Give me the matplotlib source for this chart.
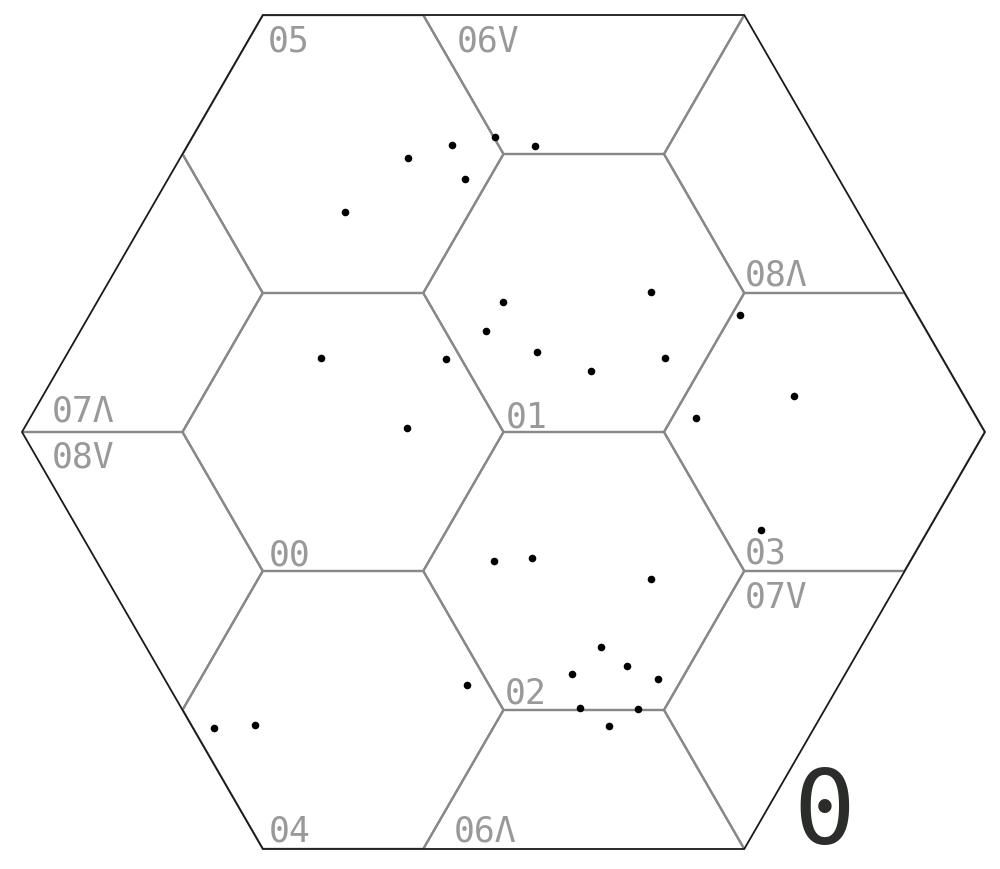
import numpy as np
import matplotlib
matplotlib.use("Agg")
import matplotlib.pyplot as plt
from matplotlib.patches import Polygon
from matplotlib.collections import PolyCollection

# ---- data (in picture coordinates) ----
dots_x = [495, 452, 535, 408, 465, 345,
          503, 651, 486, 446, 537, 591, 665, 740, 794, 696, 321, 407,
          494, 532, 651, 761, 601, 627, 572, 658, 467, 580, 638, 609,
          214, 255]
dots_y = [137, 145, 146, 158, 179, 212,
          302, 292, 331, 359, 352, 371, 358, 315, 396, 418, 358, 428,
          561, 558, 579, 530, 647, 666, 674, 679, 685, 708, 709, 726,
          728, 725]

cell_labels = ["05", "06V", "07Λ", "08V", "08Λ", "01", "00", "03", "07V",
               "02", "04", "06Λ"]
big_label = "0"

# ---- layout ----
label_pos = [(268, 51), (457, 51), (52, 422), (52, 468), (745, 285),
             (506, 427), (269, 565), (745, 564), (745, 608),
             (505, 703), (269, 841), (454, 841)]

W, H = 1000, 869
fig = plt.figure(figsize=(W / 100, H / 100), dpi=100)
ax = fig.add_axes([0, 0, 1, 1])
ax.set_xlim(0, W)
ax.set_ylim(H, 0)
ax.axis("off")

cx, cy = 503.5, 432.0
R = 481.5
s = R / 3.0
h = s * np.sqrt(3) / 2


def hexagon(x0, y0, r):
    ang = np.radians(np.arange(0, 360, 60))
    return np.column_stack([x0 + r * np.cos(ang), y0 + r * np.sin(ang)])


outer = Polygon(hexagon(cx, cy, R), closed=True, facecolor="none",
                edgecolor="#1a1a1a", lw=1.3, zorder=3)

polys = []
for i in range(-3, 5):
    for j in range(-4, 4):
        x0 = cx - s + 1.5 * s * i
        y0 = cy + 2 * h * (j + i / 2.0)
        polys.append(hexagon(x0, y0, s))
grid = PolyCollection(polys, facecolors="none", edgecolors="#888888",
                      linewidths=1.6, zorder=2)
ax.add_collection(grid)
ax.add_patch(outer)
grid.set_clip_path(outer)

ax.scatter(dots_x, dots_y, s=30, color="black", zorder=4, linewidths=0)

for txt, (x, y) in zip(cell_labels, label_pos):
    ax.text(x, y, txt, family="DejaVu Sans Mono", fontsize=25,
            color="#999999", ha="left", va="baseline", zorder=5)

ax.text(824, 844, big_label, family="DejaVu Sans Mono", fontsize=74,
        color="#2b2d2a", ha="center", va="baseline", zorder=5)

fig.savefig("out.png", dpi=100, facecolor="white")
